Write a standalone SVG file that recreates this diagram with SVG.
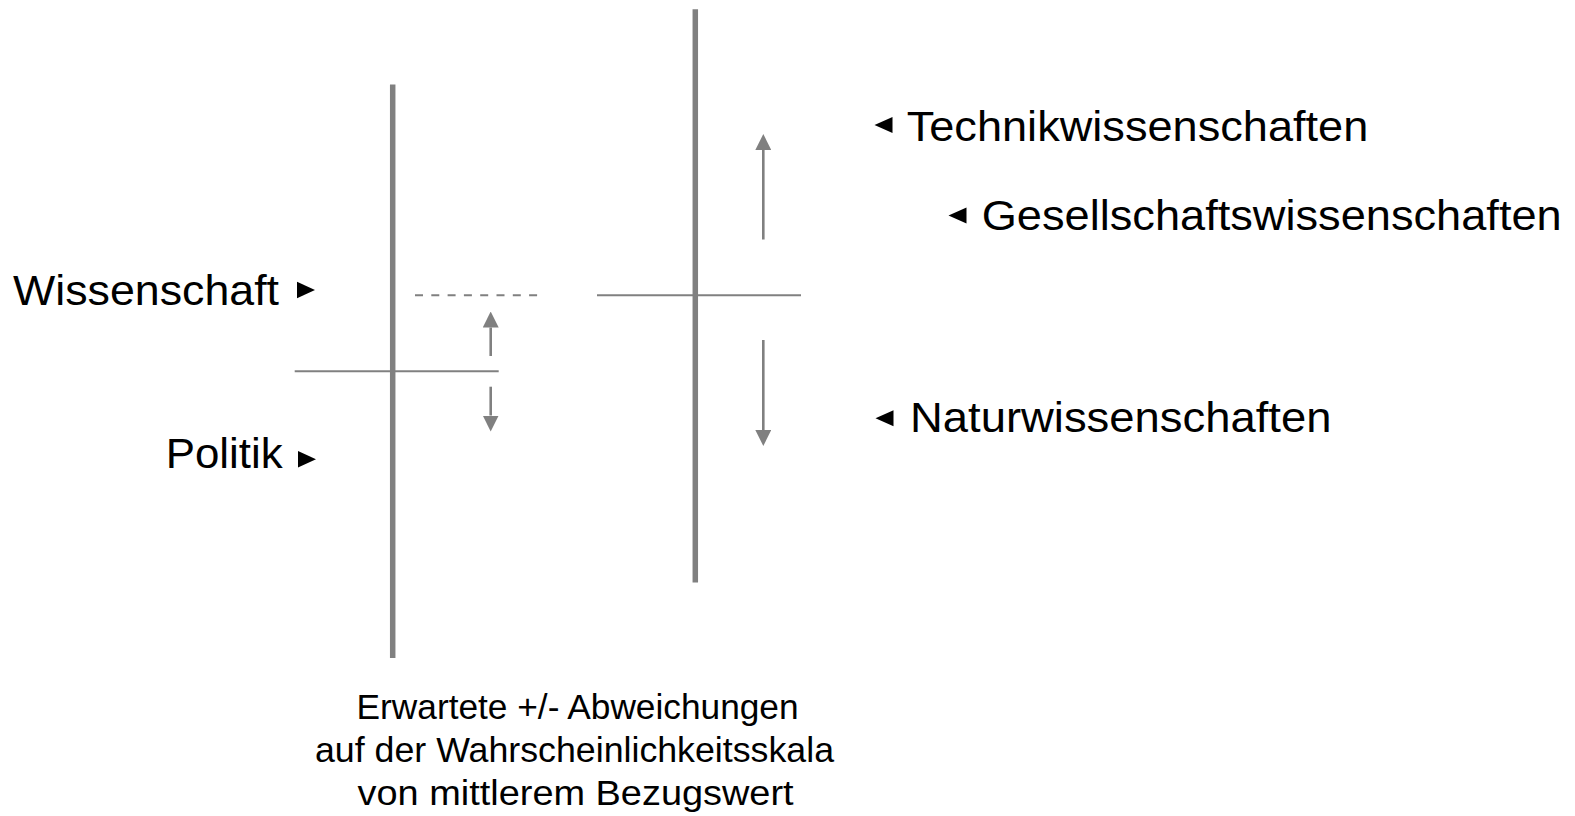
<svg xmlns="http://www.w3.org/2000/svg" width="1575" height="816" viewBox="0 0 1575 816">
  <style>
    .lbl { font-family: "Liberation Sans", Arial, sans-serif; font-size: 42px; fill: #000; }
    .cap { font-family: "Liberation Sans", Arial, sans-serif; font-size: 34.5px; fill: #000; text-anchor: middle; }
    .bar { stroke: #808080; stroke-width: 5.5; fill: none; }
    .base { stroke: #808080; stroke-width: 2; fill: none; }
    .dash { stroke: #808080; stroke-width: 2; stroke-dasharray: 8 8.3; fill: none; }
    .arr { stroke: #808080; stroke-width: 2.6; fill: none; marker-end: url(#head); }
    .tri { fill: #000; }
  </style>
  <defs>
    <marker id="head" markerUnits="userSpaceOnUse" markerWidth="16" markerHeight="16" viewBox="0 0 16 16" refX="0" refY="8" orient="auto">
      <path d="M0,0 L16,8 L0,16 z" fill="#808080"/>
    </marker>
  </defs>

  <g id="axis-left">
    <line class="bar" x1="392.7" y1="84.5" x2="392.7" y2="658"/>
    <line class="base" x1="294.7" y1="371.3" x2="498.7" y2="371.3"/>
  </g>

  <g id="axis-right">
    <line class="bar" x1="695.3" y1="9.3" x2="695.3" y2="582.6"/>
    <line class="base" x1="597" y1="295.3" x2="801" y2="295.3"/>
  </g>

  <g id="reference-line">
    <line class="dash" x1="415" y1="295.3" x2="545" y2="295.3"/>
  </g>

  <g id="connectors">
    <line class="arr" x1="490.7" y1="356" x2="490.7" y2="327.5"/>
    <line class="arr" x1="490.7" y1="386.7" x2="490.7" y2="415.5"/>
    <line class="arr" x1="763.3" y1="239.5" x2="763.3" y2="150"/>
    <line class="arr" x1="763.3" y1="340" x2="763.3" y2="430"/>
  </g>

  <g id="label-wissenschaft">
    <text class="lbl" x="13" y="305" textLength="266" lengthAdjust="spacingAndGlyphs">Wissenschaft</text>
    <polygon class="tri" points="297,281.8 315,290 297,298.2"/>
  </g>

  <g id="label-politik">
    <text class="lbl" x="165.7" y="468.3" textLength="117" lengthAdjust="spacingAndGlyphs">Politik</text>
    <polygon class="tri" points="298,451 316,459.2 298,467.4"/>
  </g>

  <g id="label-technik">
    <polygon class="tri" points="892.5,117 874.5,125 892.5,133"/>
    <text class="lbl" x="906.7" y="140.5" textLength="461.6" lengthAdjust="spacingAndGlyphs">Technikwissenschaften</text>
  </g>

  <g id="label-gesellschaft">
    <polygon class="tri" points="966.5,207.5 948.5,215.5 966.5,223.5"/>
    <text class="lbl" x="981.7" y="230" textLength="580" lengthAdjust="spacingAndGlyphs">Gesellschaftswissenschaften</text>
  </g>

  <g id="label-natur">
    <polygon class="tri" points="893.5,410.3 875.5,418.3 893.5,426.3"/>
    <text class="lbl" x="910" y="431.5" textLength="421.5" lengthAdjust="spacingAndGlyphs">Naturwissenschaften</text>
  </g>

  <g id="caption">
    <text class="cap" x="577.6" y="719" textLength="442" lengthAdjust="spacingAndGlyphs">Erwartete +/- Abweichungen</text>
    <text class="cap" x="574.5" y="762" textLength="519" lengthAdjust="spacingAndGlyphs">auf der Wahrscheinlichkeitsskala</text>
    <text class="cap" x="575.6" y="805" textLength="436" lengthAdjust="spacingAndGlyphs">von mittlerem Bezugswert</text>
  </g>
</svg>
